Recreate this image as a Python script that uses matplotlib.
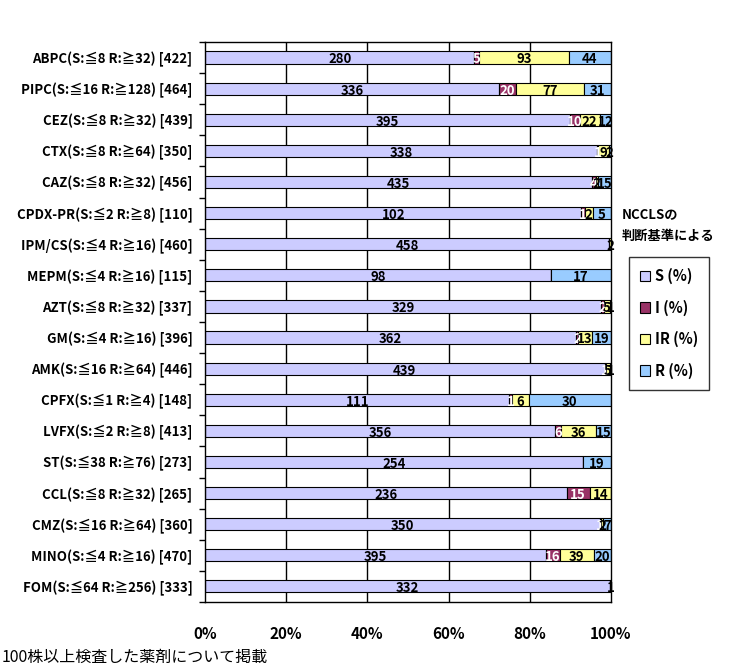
import numpy as np
import matplotlib
matplotlib.use('Agg')
from matplotlib import pyplot as plt
from matplotlib.patches import Patch

plt.rcParams['font.family'] = ['Noto Sans CJK JP', 'DejaVu Sans']

# drug labels, top to bottom
drugs = ['ABPC(S:≦8 R:≧32) [422]', 'PIPC(S:≦16 R:≧128) [464]', 'CEZ(S:≦8 R:≧32) [439]',
         'CTX(S:≦8 R:≧64) [350]', 'CAZ(S:≦8 R:≧32) [456]', 'CPDX-PR(S:≦2 R:≧8) [110]',
         'IPM/CS(S:≦4 R:≧16) [460]', 'MEPM(S:≦4 R:≧16) [115]', 'AZT(S:≦8 R:≧32) [337]',
         'GM(S:≦4 R:≧16) [396]', 'AMK(S:≦16 R:≧64) [446]', 'CPFX(S:≦1 R:≧4) [148]',
         'LVFX(S:≦2 R:≧8) [413]', 'ST(S:≦38 R:≧76) [273]', 'CCL(S:≦8 R:≧32) [265]',
         'CMZ(S:≦16 R:≧64) [360]', 'MINO(S:≦4 R:≧16) [470]', 'FOM(S:≦64 R:≧256) [333]']

# strain counts per category
s_cnt  = [280, 336, 395, 338, 435, 102, 458, 98, 329, 362, 439, 111, 356, 254, 236, 350, 395, 332]
i_cnt  = [5, 20, 10, 1, 4, 1, 0, 0, 2, 2, 1, 1, 6, 0, 15, 1, 16, 0]
ir_cnt = [93, 77, 22, 9, 2, 2, 2, 0, 5, 13, 5, 6, 36, 0, 14, 2, 39, 0]
r_cnt  = [44, 31, 12, 2, 15, 5, 0, 17, 1, 19, 1, 30, 15, 19, 0, 7, 20, 1]

series = [('S (%)', s_cnt, '#CCCCFF', 'black'),
          ('I (%)', i_cnt, '#993366', 'white'),
          ('IR (%)', ir_cnt, '#FFFF99', 'black'),
          ('R (%)', r_cnt, '#99CCFF', 'black')]

tot = np.array(s_cnt) + np.array(i_cnt) + np.array(ir_cnt) + np.array(r_cnt)
y = np.arange(len(drugs))

fig = plt.figure(figsize=(7.38, 6.72), dpi=100)
ax = fig.add_axes([0.2778, 0.1042, 0.5501, 0.8333])

left = np.zeros(len(drugs))
for name, cnt, col, tcol in series:
    cnt = np.array(cnt)
    w = cnt / tot * 100
    ax.barh(y, w, left=left, height=0.39, color=col, edgecolor='black', linewidth=0.8, zorder=2)
    for yi, c, l, wi in zip(y, cnt, left, w):
        if c > 0:
            ax.text(l + wi / 2, yi + 0.06, str(c), ha='center', va='center', fontsize=9.5,
                    fontweight='bold', color=tcol, zorder=3)
    left = left + w

ax.set_xlim(0, 100)
ax.set_ylim(len(drugs) - 0.5, -0.5)
ax.set_yticks(y)
ax.set_yticklabels(drugs, fontsize=9.5, fontweight='bold')
ax.set_yticks(np.arange(-0.5, len(drugs), 1), minor=True)
ax.tick_params(axis='y', which='major', length=0, pad=9)
ax.tick_params(axis='y', which='minor', length=4, width=1, direction='out')
ax.set_xticks([0, 20, 40, 60, 80, 100])
ax.set_xticklabels(['0%', '20%', '40%', '60%', '80%', '100%'], fontsize=11, fontweight='bold')
ax.tick_params(axis='x', length=0, pad=17)
for x in [20, 40, 60, 80]:
    ax.axvline(x, color='black', linewidth=1, zorder=1)
for sp in ax.spines.values():
    sp.set_color('black')
    sp.set_linewidth(1)

fig.text(622 / 738, 1 - 214 / 672, 'NCCLSの', fontsize=9.5, fontweight='bold', va='center')
fig.text(622 / 738, 1 - 236 / 672, '判断基準による', fontsize=9.5, fontweight='bold', va='center')

handles = [Patch(facecolor=c, edgecolor='black', linewidth=0.8) for _, _, c, _ in series]
leg = fig.legend(handles, [s[0] for s in series], loc='upper left',
                 bbox_to_anchor=(629 / 738, 1 - 257 / 672), borderaxespad=0,
                 frameon=True, fancybox=False, edgecolor='black',
                 handlelength=0.7, handleheight=0.7, handletextpad=0.3,
                 labelspacing=1.05, borderpad=0.75, prop={'size': 10.5, 'weight': 'bold'})
leg.get_frame().set_linewidth(1)

fig.text(2 / 738, 1 - 657 / 672, '100株以上検査した薬剤について掲載', fontsize=11.5, va='center')

fig.savefig('out.png', dpi=100, facecolor='white')
